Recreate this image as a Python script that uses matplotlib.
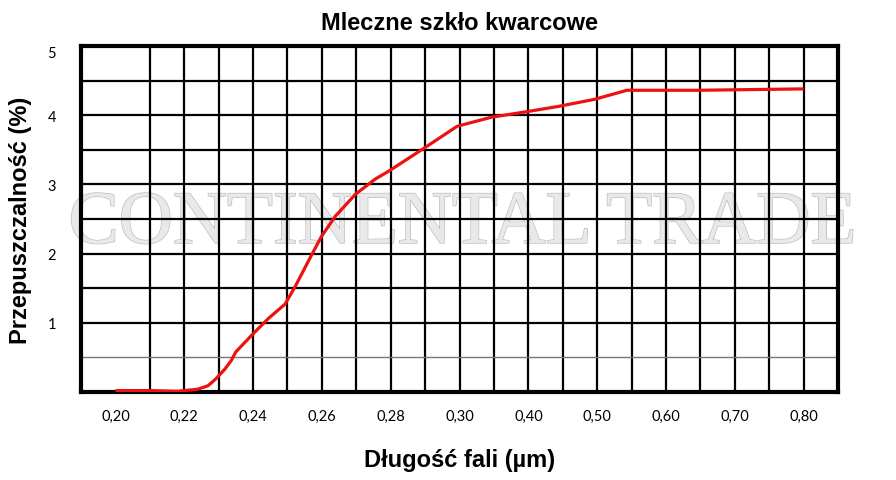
import numpy as np
import matplotlib
matplotlib.use("Agg")
import matplotlib.pyplot as plt
import matplotlib.patheffects as pe

# Tick wavelengths (axis is piecewise: 0.02 steps up to 0.30, then 0.10 steps)
tick_wl = [0.20, 0.22, 0.24, 0.26, 0.28, 0.30, 0.40, 0.50, 0.60, 0.70, 0.80]
tick_labels = ["0,20", "0,22", "0,24", "0,26", "0,28", "0,30",
               "0,40", "0,50", "0,60", "0,70", "0,80"]
y_ticks = [1, 2, 3, 4, 5]

# Transmission curve
wavelength = [0.2000, 0.2100, 0.2181, 0.2239, 0.2269, 0.2292, 0.2318, 0.2336,
              0.2350, 0.2394, 0.2444, 0.2493, 0.2523, 0.2569, 0.2599, 0.2639,
              0.2698, 0.2756, 0.2794, 0.2902, 0.2993, 0.3460, 0.3971, 0.4453,
              0.4964, 0.5431, 0.6453, 0.8000]
transmission = [0.02, 0.02, 0.01, 0.04, 0.09, 0.19, 0.33, 0.45,
                0.58, 0.81, 1.06, 1.27, 1.53, 1.97, 2.25, 2.54,
                2.86, 3.08, 3.19, 3.54, 3.84, 3.97, 4.05, 4.13,
                4.23, 4.36, 4.36, 4.38]

tick_pos = np.arange(len(tick_wl))


def fwd(x):
    x = np.asarray(x, dtype=float)
    out = np.interp(x, tick_wl, tick_pos)
    out = np.where(x < tick_wl[0], (x - tick_wl[0]) / 0.02, out)
    out = np.where(x > tick_wl[-1], 10 + (x - tick_wl[-1]) / 0.10, out)
    return out


def inv(p):
    p = np.asarray(p, dtype=float)
    out = np.interp(p, tick_pos, tick_wl)
    out = np.where(p < 0, tick_wl[0] + p * 0.02, out)
    out = np.where(p > 10, tick_wl[-1] + (p - 10) * 0.10, out)
    return out


fig = plt.figure(figsize=(8.96, 4.81), dpi=100)
ax = fig.add_axes([0.0904, 0.183, 0.845, 0.7193])
ax.set_xscale("function", functions=(fwd, inv))
ax.set_xlim(float(inv(-0.5)), float(inv(10.5)))
ax.set_ylim(0, 5)

# grid every half unit
for p in np.arange(0.5, 10.5, 0.5):
    ax.axvline(float(inv(p)), color="black", lw=1.6, zorder=1)
for yv in np.arange(0.5, 5.0, 0.5):
    if yv == 0.5:
        ax.axhline(yv, color="#777777", lw=1.0, zorder=1)
    else:
        ax.axhline(yv, color="black", lw=1.6, zorder=1)

ax.plot(wavelength, transmission, color="#ee1111", lw=2.3, zorder=5,
        solid_capstyle="butt", solid_joinstyle="round")

# watermark
ax.text(0.516, 0.530, "CONTINENTAL TRADE", transform=fig.transFigure,
        ha="center", va="center", fontsize=54,
        family="Liberation Serif", color="#e9e9e9", zorder=0.5, clip_on=False,
        path_effects=[pe.withStroke(linewidth=1.2, foreground="#bdbdbd"),
                      pe.Normal()])

for s in ax.spines.values():
    s.set_linewidth(3)
    s.set_zorder(4)

ax.set_xticks(tick_wl)
ax.set_xticklabels(tick_labels, family="Lato", fontsize=10.5)
ax.xaxis.set_minor_locator(plt.NullLocator())
ax.set_yticks(y_ticks)
ax.set_yticklabels([str(v) for v in y_ticks], family="Lato", fontsize=10.5)
ax.get_yticklabels()[-1].set_verticalalignment("top")
ax.tick_params(axis="x", length=0, pad=12)
ax.tick_params(axis="y", length=0, pad=18)

ax.set_title("Mleczne szkło kwarcowe", family="Liberation Sans",
             fontweight="bold", fontsize=17, pad=12)
ax.set_xlabel("Długość fali (µm)", family="Liberation Sans",
              fontweight="bold", fontsize=17, labelpad=18)
ax.set_ylabel("Przepuszczalność (%)", family="Liberation Sans",
              fontweight="bold", fontsize=17, labelpad=11)

fig.savefig("out.png", dpi=100)
